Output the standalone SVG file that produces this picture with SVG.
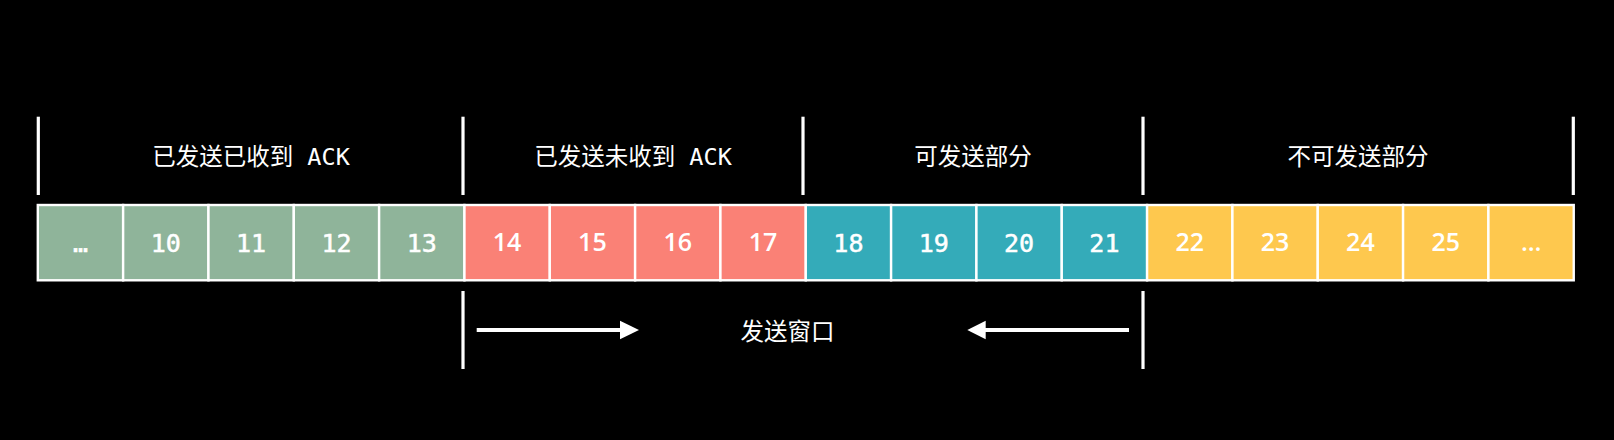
<svg xmlns="http://www.w3.org/2000/svg" width="1614" height="440" viewBox="0 0 1614 440">
<defs>
<style>
.bg{fill:#000}
.cell{stroke:#fff;stroke-width:2.4}
.g{fill:#8fb49a}
.r{fill:#fa8176}
.t{fill:#34abb9}
.y{fill:#fec84e}
.mono{font-family:"DejaVu Sans Mono","Liberation Mono",monospace;font-size:25px;font-weight:normal;fill:#fff;text-anchor:middle;stroke:#fff;stroke-width:0.5}
.prop{font-family:"Open Sans","Noto Sans",sans-serif;font-size:25px;font-weight:600;fill:#fff;text-anchor:middle}
.lbl{font-family:"DejaVu Sans Mono","Noto Sans CJK SC",monospace;font-size:23.5px;fill:#fff;text-anchor:middle}
.cjk{font-family:"Noto Sans CJK SC",sans-serif;font-size:23.5px;fill:#fff;text-anchor:middle}
.div{stroke:#fff;stroke-width:3.2}
.arr{stroke:#fff;stroke-width:4}
</style>
</defs>
<rect class="bg" x="0" y="0" width="1614" height="440"/>

<g id="dividers">
<line class="div" x1="38.3" y1="116.7" x2="38.3" y2="195"/>
<line class="div" x1="463" y1="116.7" x2="463" y2="195"/>
<line class="div" x1="803" y1="116.7" x2="803" y2="195"/>
<line class="div" x1="1143" y1="116.7" x2="1143" y2="195"/>
<line class="div" x1="1573.3" y1="116.7" x2="1573.3" y2="195"/>
<line class="div" x1="463" y1="291" x2="463" y2="369"/>
<line class="div" x1="1143" y1="291" x2="1143" y2="369"/>
</g>

<g id="labels">
<text class="lbl" x="251" y="165">已发送已收到 ACK</text>
<text class="lbl" x="633" y="165">已发送未收到 ACK</text>
<text class="cjk" x="973" y="165">可发送部分</text>
<text class="cjk" x="1358" y="165">不可发送部分</text>
</g>

<g id="cells">
<g id="c0"><rect class="cell g" x="37.8" y="205" width="85.33" height="75.3"/><text class="mono" x="80.5" y="251.5">…</text></g>
<g id="c1"><rect class="cell g" x="123.13" y="205" width="85.33" height="75.3"/><text class="mono" x="165.8" y="251.5">10</text></g>
<g id="c2"><rect class="cell g" x="208.46" y="205" width="85.33" height="75.3"/><text class="mono" x="251.1" y="251.5">11</text></g>
<g id="c3"><rect class="cell g" x="293.79" y="205" width="85.33" height="75.3"/><text class="mono" x="336.5" y="251.5">12</text></g>
<g id="c4"><rect class="cell g" x="379.12" y="205" width="85.33" height="75.3"/><text class="mono" x="421.8" y="251.5">13</text></g>
<g id="c5"><rect class="cell r" x="464.45" y="205" width="85.33" height="75.3"/><text class="prop" x="507.1" y="251">14</text></g>
<g id="c6"><rect class="cell r" x="549.78" y="205" width="85.33" height="75.3"/><text class="prop" x="592.4" y="251">15</text></g>
<g id="c7"><rect class="cell r" x="635.11" y="205" width="85.33" height="75.3"/><text class="prop" x="677.8" y="251">16</text></g>
<g id="c8"><rect class="cell r" x="720.44" y="205" width="85.33" height="75.3"/><text class="prop" x="763.1" y="251">17</text></g>
<g id="c9"><rect class="cell t" x="805.77" y="205" width="85.33" height="75.3"/><text class="mono" x="848.4" y="251.5">18</text></g>
<g id="c10"><rect class="cell t" x="891.1" y="205" width="85.33" height="75.3"/><text class="mono" x="933.8" y="251.5">19</text></g>
<g id="c11"><rect class="cell t" x="976.43" y="205" width="85.33" height="75.3"/><text class="mono" x="1019.1" y="251.5">20</text></g>
<g id="c12"><rect class="cell t" x="1061.76" y="205" width="85.33" height="75.3"/><text class="mono" x="1104.4" y="251.5">21</text></g>
<g id="c13"><rect class="cell y" x="1147.09" y="205" width="85.33" height="75.3"/><text class="prop" x="1189.8" y="251">22</text></g>
<g id="c14"><rect class="cell y" x="1232.42" y="205" width="85.33" height="75.3"/><text class="prop" x="1275.1" y="251">23</text></g>
<g id="c15"><rect class="cell y" x="1317.75" y="205" width="85.33" height="75.3"/><text class="prop" x="1360.4" y="251">24</text></g>
<g id="c16"><rect class="cell y" x="1403.08" y="205" width="85.33" height="75.3"/><text class="prop" x="1445.7" y="251">25</text></g>
<g id="c17"><rect class="cell y" x="1488.41" y="205" width="85.33" height="75.3"/><text class="prop" x="1531.1" y="251">…</text></g>
</g>

<g id="window">
<text class="cjk" x="787.5" y="340">发送窗口</text>
</g>

<g id="connectors">
<line class="arr" x1="476.7" y1="330" x2="621" y2="330"/>
<polygon fill="#fff" points="620,320.7 639,330 620,339.3"/>
<line class="arr" x1="1129" y1="330" x2="985" y2="330"/>
<polygon fill="#fff" points="985.7,320.7 967.3,330 985.7,339.3"/>
</g>
</svg>
